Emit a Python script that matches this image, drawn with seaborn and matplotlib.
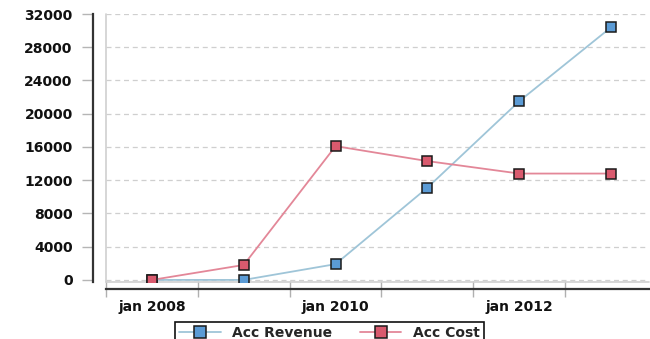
import matplotlib
matplotlib.use("Agg")
import matplotlib.pyplot as plt
import seaborn as sns
import pandas as pd
from matplotlib.lines import Line2D
from matplotlib.ticker import FixedLocator, NullFormatter, FixedFormatter

years = [2008, 2009, 2010, 2011, 2012, 2013]
acc_revenue = [0, 0, 1900, 11100, 21500, 30400]
acc_cost = [0, 1800, 16100, 14300, 12800, 12800]
y_ticks = [0, 4000, 8000, 12000, 16000, 20000, 24000, 28000, 32000]
x_labels = ["jan 2008", "jan 2010", "jan 2012"]
x_label_years = [2008, 2010, 2012]

sns.set_theme(style="white")
plt.rcParams["font.family"] = ["DejaVu Sans"]
plt.rcParams["font.weight"] = "bold"

df = pd.DataFrame({"x": [y + 0.5 for y in years],
                   "Acc Revenue": acc_revenue, "Acc Cost": acc_cost})

fig = plt.figure(figsize=(6.5, 3.39), dpi=100)
ax = fig.add_axes([106 / 650, 1 - 282 / 339, 0.998 - 106 / 650, (282 - 14) / 339])

rev_line = "#9fc5d8"
rev_fill = "#5b9bd5"
cost_line = "#e38798"
cost_fill = "#d95a6e"

sns.lineplot(data=df, x="x", y="Acc Revenue", ax=ax, color=rev_line, lw=1.3,
             marker="s", markersize=6.5, markerfacecolor=rev_fill,
             markeredgecolor="#1a1a1a", markeredgewidth=1.1, zorder=3)
sns.lineplot(data=df, x="x", y="Acc Cost", ax=ax, color=cost_line, lw=1.3,
             marker="s", markersize=6.5, markerfacecolor=cost_fill,
             markeredgecolor="#1a1a1a", markeredgewidth=1.1, zorder=3)

ax.set_xlim(years[0], 2013.91)
ax.set_ylim(-250, 32000)
ax.set_xlabel("")
ax.set_ylabel("")

# y axis
ax.yaxis.set_major_locator(FixedLocator(y_ticks))
ax.yaxis.set_major_formatter(FixedFormatter([str(v) for v in y_ticks]))
ax.tick_params(axis="y", which="major", direction="out", length=8, width=1,
               color="#b5b5b5", pad=6.5, left=True, labelsize=10, labelcolor="#111111")
ax.grid(axis="y", color="#cfcfcf", linestyle=(0, (4, 3)), linewidth=0.9)
ax.grid(axis="x", visible=False)

# x axis
ax.xaxis.set_major_locator(FixedLocator(years))
ax.xaxis.set_major_formatter(NullFormatter())
ax.xaxis.set_minor_locator(FixedLocator([y + 0.5 for y in x_label_years]))
ax.xaxis.set_minor_formatter(FixedFormatter(x_labels))
ax.tick_params(axis="x", which="major", direction="inout", length=12, width=1,
               color="#b0b0b0", bottom=True)
ax.tick_params(axis="x", which="minor", length=0, pad=8, labelsize=10,
               labelcolor="#111111", bottom=True)

for s in ["top", "right"]:
    ax.spines[s].set_visible(False)
ax.spines["left"].set_position(("outward", 9.5))
ax.spines["bottom"].set_position(("outward", 5))
ax.spines["left"].set_color("#333333")
ax.spines["bottom"].set_color("#333333")
ax.spines["left"].set_linewidth(1.6)
ax.spines["bottom"].set_linewidth(1.6)

# light plot-area border (left and bottom)
ax.add_line(Line2D([0, 0], [0, 1], transform=ax.transAxes, color="#d0d0d0", lw=1.2, clip_on=False))
ax.add_line(Line2D([0, 1], [0, 0], transform=ax.transAxes, color="#d0d0d0", lw=1.2, clip_on=False))

handles = [
    Line2D([], [], color=rev_line, lw=1.3, marker="s", markersize=8,
           markerfacecolor=rev_fill, markeredgecolor="#1a1a1a", markeredgewidth=1.1),
    Line2D([], [], color=cost_line, lw=1.3, marker="s", markersize=8,
           markerfacecolor=cost_fill, markeredgecolor="#1a1a1a", markeredgewidth=1.1),
]
leg = fig.legend(handles, ["Acc Revenue", "Acc Cost"], loc="upper left",
                 bbox_to_anchor=(168 / 650, 1 - 315 / 339), ncol=2, frameon=True,
                 fancybox=False, edgecolor="#111111", framealpha=1,
                 prop={"weight": "bold", "size": 10}, handlelength=3,
                 columnspacing=2.0, borderpad=0.3, handletextpad=0.8)
leg.get_frame().set_linewidth(1.2)

fig.savefig("out.png", dpi=100)
